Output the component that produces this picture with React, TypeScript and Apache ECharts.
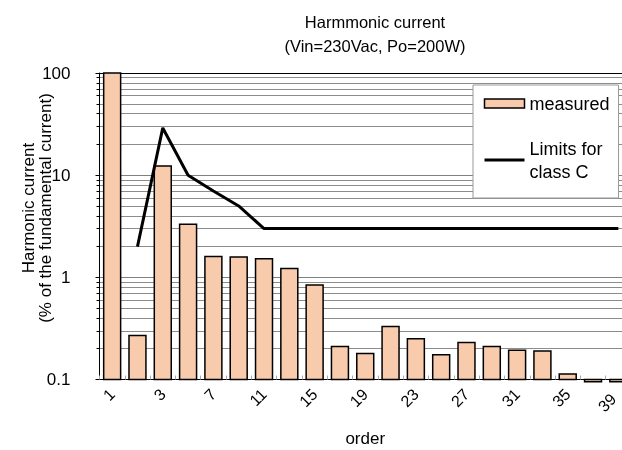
import React, { useEffect, useRef } from "react";
import * as echarts from "echarts";

const categories = ["1", "2", "3", "5", "7", "9", "11", "13", "15", "17", "19", "21", "23", "25", "27", "29", "31", "33", "35", "37", "39"];
const measured = [100, 0.27, 12.3, 3.3, 1.6, 1.58, 1.52, 1.22, 0.84, 0.21, 0.18, 0.33, 0.25, 0.175, 0.23, 0.21, 0.193, 0.19, 0.113, 0.095, 0.095];
const limits: (number | null)[] = [null, 2, 29, 10, 7, 5, 3, 3, 3, 3, 3, 3, 3, 3, 3, 3, 3, 3, 3, 3, 3];
const yTicks = [0.1, 1, 10, 100];

const FONT = "Liberation Sans, Arial, sans-serif";
const FILL = "#F8CBAD";

export default function App() {
  const ref = useRef<HTMLDivElement>(null);
  useEffect(() => {
    if (!ref.current) return;
    const chart = echarts.init(ref.current, null, { renderer: "svg" });
    const lastCat = categories[categories.length - 1];
    chart.setOption({
      animation: false,
      textStyle: { fontFamily: FONT, color: "#000" },
      title: {
        text: "Harmmonic current\n(Vin=230Vac, Po=200W)",
        left: 370,
        top: 5,
        textAlign: "center",
        textStyle: { fontFamily: FONT, fontSize: 16.5, fontWeight: "normal", color: "#000", lineHeight: 24 },
      },
      grid: { left: 99.5, right: -9, top: 73, bottom: 70.5, containLabel: false, outerBoundsMode: "none" },
      legend: {
        orient: "vertical",
        left: 473,
        top: 85,
        padding: [7.5, 9, 7, 10],
        itemGap: 14.5,
        itemWidth: 40,
        itemHeight: 9,
        backgroundColor: "#fff",
        borderColor: "#999",
        borderWidth: 1,
        borderRadius: 0,
        textStyle: { fontFamily: FONT, fontSize: 18, color: "#000", lineHeight: 22 },
        data: [
          { name: "measured", icon: "rect", itemStyle: { color: FILL, borderColor: "#000", borderWidth: 1.5 } },
          {
            name: "Limits for\nclass C",
            itemStyle: { color: "rgba(0,0,0,0)", borderWidth: 0, opacity: 0 },
            lineStyle: { color: "#000", width: 3 },
            textStyle: { fontFamily: FONT, fontSize: 18, color: "#000", lineHeight: 23, padding: [16, 0, 0, 0] },
          },
        ],
      },
      xAxis: [
        {
          type: "category",
          data: categories,
          position: "bottom",
          axisLine: { lineStyle: { color: "#000", width: 1 } },
          axisTick: { show: true, inside: true, length: 4, interval: 0, lineStyle: { color: "#aaa" } },
          axisLabel: {
            interval: 1,
            rotate: 45,
            fontSize: 16,
            color: "#000",
            fontFamily: FONT,
            margin: 12,
            formatter: (v: string) => (v === lastCat ? `{e|${v}}` : v),
            rich: { e: { fontSize: 16, fontFamily: FONT, color: "#000", padding: [0, 7, 0, 0] } },
          },
          name: "order",
          nameLocation: "middle",
          nameGap: 50,
          nameTextStyle: { fontSize: 17, color: "#000", fontFamily: FONT },
          splitLine: { show: false },
        },
        {
          type: "category",
          data: categories,
          position: "top",
          axisLine: { show: true, lineStyle: { color: "#000", width: 1 } },
          axisTick: { show: false },
          axisLabel: { show: false },
        },
      ],
      yAxis: {
        type: "log",
        logBase: 10,
        min: yTicks[0],
        max: yTicks[yTicks.length - 1],
        axisLine: { show: true, lineStyle: { color: "#000" } },
        axisTick: { show: true, length: 4, lineStyle: { color: "#000" } },
        minorTick: { show: true, splitNumber: 9, length: 3, lineStyle: { color: "#000" } },
        axisLabel: { fontSize: 17, color: "#000", fontFamily: FONT, margin: 29, formatter: (v: number) => String(v) },
        splitLine: { show: true, lineStyle: { color: "#808080", width: 1 } },
        minorSplitLine: { show: true, lineStyle: { color: "#8c8c8c", width: 1 } },
      },
      graphic: [
        {
          type: "text",
          x: 37,
          y: 208,
          rotation: Math.PI / 2,
          style: {
            text: "Harmonic current\n(% of the fundamental current)",
            font: `17px ${FONT}`,
            fill: "#000",
            align: "center",
            verticalAlign: "middle",
            lineHeight: 17,
          },
        },
      ],
      series: [
        {
          name: "measured",
          type: "custom",
          clip: false,
          itemStyle: { color: FILL, borderColor: "#000", borderWidth: 1.5 },
          data: measured.map((v, i) => [i, v]),
          encode: { x: 0, y: 1 },
          renderItem: (params: any, api: any) => {
            const x = api.value(0);
            const v = api.value(1);
            const top = api.coord([x, v]);
            const base = api.coord([x, yTicks[0]]);
            const w = api.size([1, 1])[0] * 0.67;
            return {
              type: "rect",
              shape: { x: top[0] - w / 2, y: Math.min(top[1], base[1]), width: w, height: Math.abs(base[1] - top[1]) },
              style: { fill: FILL, stroke: "#000", lineWidth: 1.5 },
            };
          },
          z: 2,
        },
        {
          name: "Limits for\nclass C",
          type: "line",
          data: limits,
          symbol: "none",
          connectNulls: false,
          lineStyle: { color: "#000", width: 3 },
          itemStyle: { color: "#000" },
          z: 3,
        },
      ],
    });
    return () => chart.dispose();
  }, []);
  return <div ref={ref} style={{ position: "fixed", left: 0, top: 0, width: 622, height: 450 }} />;
}
